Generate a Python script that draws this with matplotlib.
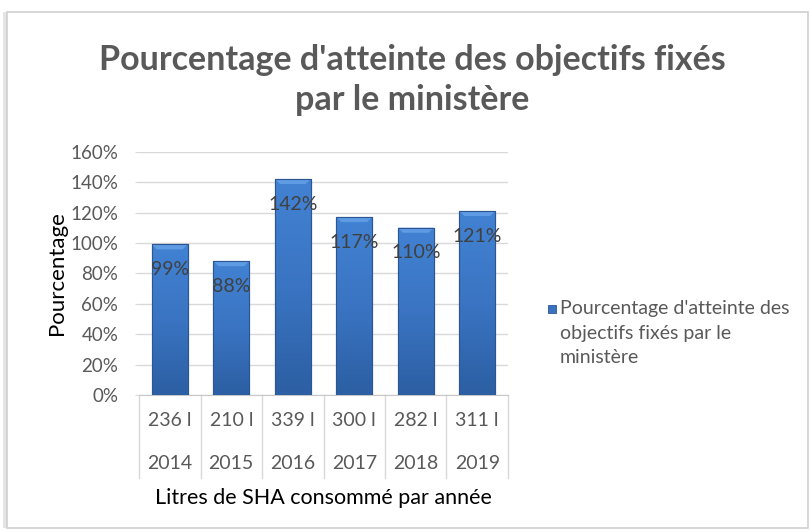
import numpy as np
from matplotlib import pyplot as plt
from matplotlib.colors import LinearSegmentedColormap
from matplotlib.patches import Rectangle, Polygon
from matplotlib.transforms import blended_transform_factory

plt.rcParams["font.family"] = ["Lato", "DejaVu Sans"]

years = ["2014", "2015", "2016", "2017", "2018", "2019"]
litres = ["236 l", "210 l", "339 l", "300 l", "282 l", "311 l"]
pourcentages = [99, 88, 142, 117, 110, 121]
yticks = [0, 20, 40, 60, 80, 100, 120, 140, 160]

title = "Pourcentage d'atteinte des objectifs fixés\npar le ministère"
legend_label = "Pourcentage d'atteinte des\nobjectifs fixés par le\nministère"

W, H = 810, 530
fig = plt.figure(figsize=(W / 100, H / 100), dpi=100)

# chart frame with a soft shadow on the left
fig.patches.append(Rectangle((3 / W, 2 / H), 6 / W, 1 - 14 / H, transform=fig.transFigure,
                             facecolor="#e4e4e4", edgecolor="none", zorder=-10))
fig.patches.append(Rectangle((7 / W, 2 / H), 1 - 9 / W, 1 - 14 / H, transform=fig.transFigure,
                             facecolor="white", edgecolor="#d0d0d0", linewidth=1.2, zorder=-9))

ax = fig.add_axes([139 / W, 1 - 395 / H, (508 - 139) / W, (395 - 151.7) / H])
ax.patch.set_alpha(0)
x = np.arange(len(years))

bars = ax.bar(x, pourcentages, width=0.58, color="#3A72BF", edgecolor="#2B5593",
              linewidth=0.8, zorder=3)

grad = LinearSegmentedColormap.from_list("g", ["#2C5FA3", "#3A74C2", "#4282D3"])
for b in bars:
    x0, w, h = b.get_x(), b.get_width(), b.get_height()
    img = ax.imshow(np.linspace(0, 1, 100).reshape(-1, 1), cmap=grad, aspect="auto",
                    origin="lower", extent=(x0, x0 + w, 0, h), zorder=3.1)
    img.set_clip_path(b)
    # bevel on top of bar
    dx = w * 0.14
    dy = 5 * 160 / 243.3
    bevel = Polygon([(x0, h), (x0 + w, h), (x0 + w - dx, h - dy), (x0 + dx, h - dy)],
                    closed=True, facecolor="#5E9BE3", edgecolor="none", zorder=3.2)
    ax.add_patch(bevel)
    ax.add_patch(Rectangle((x0, 0), w, h, facecolor="none", edgecolor="#2B5593",
                           linewidth=0.8, zorder=3.3))
    ax.text(x0 + w / 2, h - 25 * 160 / 243.3, f"{h:.0f}%", ha="center", va="center",
            fontsize=14, color="#404040", zorder=4)

ax.set_xlim(-0.5, len(years) - 0.5)
ax.set_ylim(0, 160)
ax.set_yticks(yticks)
ax.set_yticklabels([f"{v}%" for v in yticks])
ax.tick_params(axis="y", length=3, color="#d9d9d9", labelcolor="#595959", labelsize=13.5, pad=12)
ax.set_xticks([])
ax.grid(axis="y", color="#d9d9d9", linewidth=1, zorder=0)
for s in ["top", "right", "left"]:
    ax.spines[s].set_visible(False)
ax.spines["bottom"].set_color("#c8c8c8")

# category table under the axis
trans = blended_transform_factory(ax.transData, ax.transAxes)
depth = 83 / 243.3
for xb in np.arange(len(years) + 1) - 0.5:
    ax.plot([xb, xb], [0, -depth], transform=trans, color="#d9d9d9", linewidth=1, clip_on=False)
for i in x:
    ax.text(i, -25 / 243.3, litres[i], transform=trans, ha="center", va="center",
            fontsize=14, color="#595959")
    ax.text(i, -69 / 243.3, years[i], transform=trans, ha="center", va="center",
            fontsize=14, color="#595959")

fig.text(323 / W, 1 - 498 / H, "Litres de SHA consommé par année", ha="center", va="center",
         fontsize=15.5, color="#000000")
fig.text(57 / W, 1 - 273 / H, "Pourcentage", ha="center", va="center", rotation=90,
         fontsize=16, color="#000000")
fig.text(412 / W, 1 - 80 / H, title, ha="center", va="center", fontsize=24.5,
         fontweight="bold", color="#595959", linespacing=1.3)

# legend
fig.patches.append(Rectangle((548 / W, 1 - 313 / H), 8 / W, 8 / H, transform=fig.transFigure,
                             facecolor="#3A72BF", edgecolor="#2B5593", linewidth=0.6))
fig.text(560 / W, 1 - 300 / H, legend_label, ha="left", va="top", fontsize=14,
         color="#595959", linespacing=1.55)

fig.savefig("out.png", dpi=100)
